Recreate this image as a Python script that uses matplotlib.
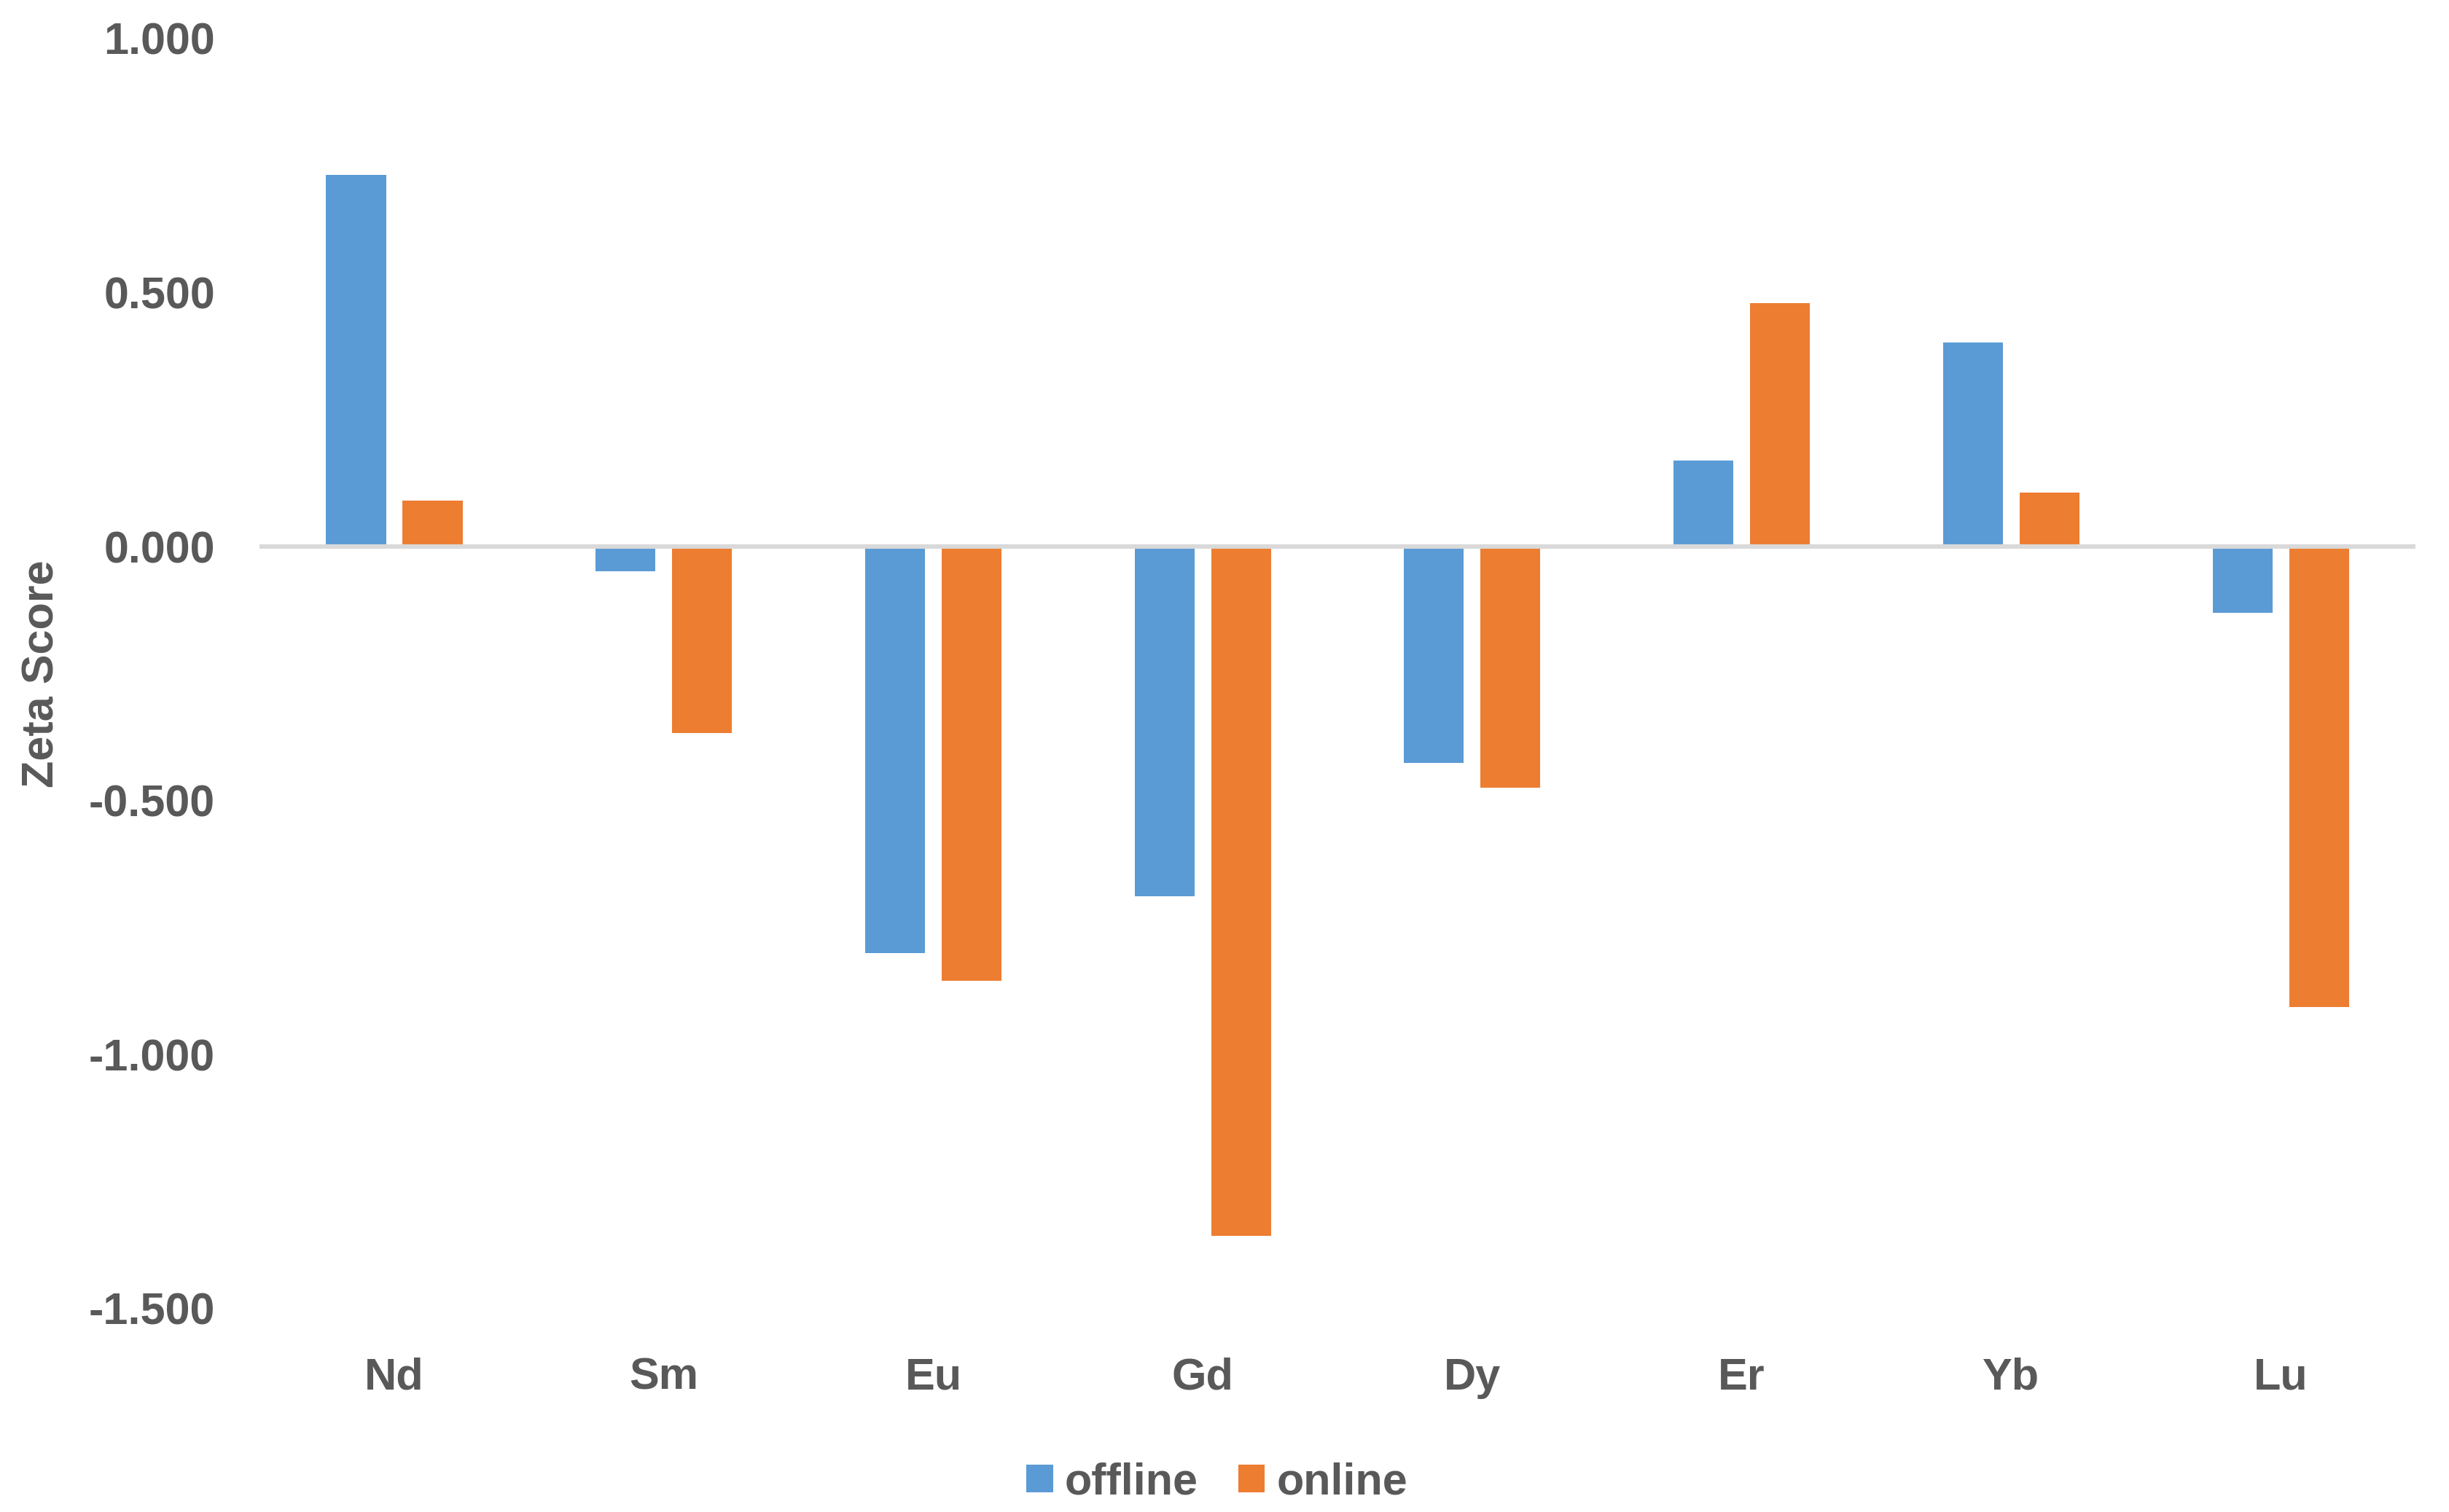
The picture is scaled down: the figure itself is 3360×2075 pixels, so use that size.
import numpy as np
import matplotlib.pyplot as plt
from matplotlib.ticker import FormatStrFormatter

plt.rcParams['font.family'] = ['Liberation Sans', 'DejaVu Sans']
plt.rcParams['font.weight'] = 'bold'

# Data
elements = ['Nd', 'Sm', 'Eu', 'Gd', 'Dy', 'Er', 'Yb', 'Lu']
offline = [0.732, -0.048, -0.800, -0.689, -0.426, 0.169, 0.402, -0.131]
online = [0.091, -0.367, -0.855, -1.357, -0.475, 0.479, 0.107, -0.906]

blue = '#5B9BD5'
orange = '#ED7D31'
text_grey = '#595959'

fig = plt.figure(figsize=(16.8, 10.375), dpi=200)
ax = fig.add_axes([0.106, 0.1345, 0.8803, 0.84])

x = np.arange(len(elements))
width = 0.222
offset = 0.142
ax.bar(x - offset, offline, width, color=blue, label='offline', zorder=2)
ax.bar(x + offset, online, width, color=orange, label='online', zorder=2)

# zero line like Excel's category axis
ax.axhline(0, color='#D9D9D9', linewidth=2.2, zorder=3)

ax.set_xlim(-0.5, len(elements) - 0.5)
ax.set_ylim(-1.5, 1.0)
ax.set_yticks(np.arange(-1.5, 1.01, 0.5))
ax.yaxis.set_major_formatter(FormatStrFormatter('%.3f'))
ax.set_xticks(x)
ax.set_xticklabels(elements)

for s in ax.spines.values():
    s.set_visible(False)
ax.tick_params(axis='both', length=0, labelsize=22, labelcolor=text_grey)
ax.tick_params(axis='y', pad=22)
ax.tick_params(axis='x', pad=24)

ax.set_ylabel('Zeta Score', fontsize=22, color=text_grey, fontweight='bold')
ax.yaxis.set_label_coords(-0.091, 0.5)

fig.legend(loc='lower center', bbox_to_anchor=(0.497, -0.021), ncol=2, frameon=False,
           fontsize=22, labelcolor=text_grey, handlelength=0.59, handleheight=0.57,
           handletextpad=0.27, columnspacing=0.9)

fig.savefig('out.png', dpi=200)
